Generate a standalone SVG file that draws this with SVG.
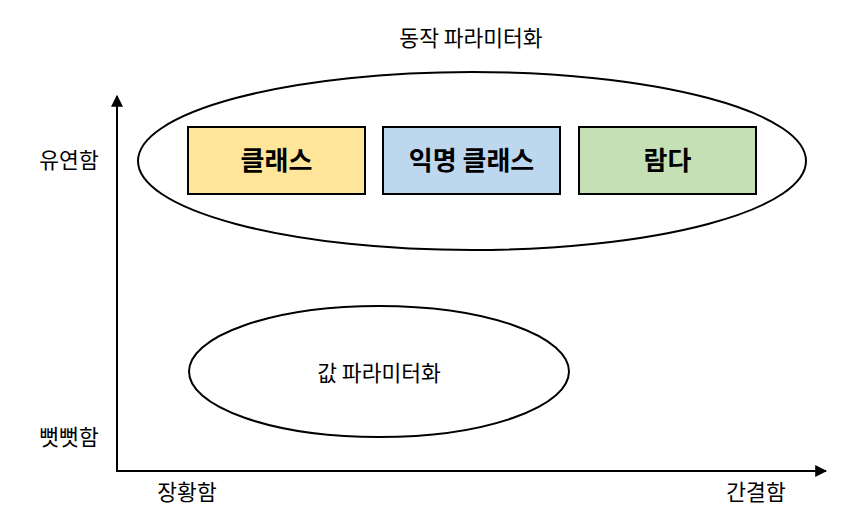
<svg xmlns="http://www.w3.org/2000/svg" width="846" height="531" viewBox="0 0 846 531">
<defs>
<marker id="ah" viewBox="0 0 10 10" refX="9" refY="5" markerWidth="12" markerHeight="12" markerUnits="userSpaceOnUse" orient="auto">
<path d="M0,0 L10,5 L0,10 Z" fill="#000"/>
</marker>
</defs>
<style>
text{font-family:"Noto Sans CJK KR","Noto Sans",sans-serif;fill:#000}
.lbl{font-size:21.5px}
.box{stroke:#000;stroke-width:2}
.bt{font-size:26px;font-weight:bold}
.ell{fill:none;stroke:#000;stroke-width:2}
</style>
<rect width="846" height="531" fill="#fff"/>
<g id="connectors">
<line x1="117" y1="471" x2="117" y2="96" stroke="#000" stroke-width="2" marker-end="url(#ah)"/>
<line x1="116" y1="471" x2="826" y2="471" stroke="#000" stroke-width="2" marker-end="url(#ah)"/>
</g>
<g id="dynamic">
<ellipse class="ell" cx="472" cy="161" rx="334" ry="89"/>
<text class="lbl" x="471" y="46" text-anchor="middle">동작 파라미터화</text>
</g>
<g id="class">
<rect class="box" x="188" y="127" width="177" height="67" fill="#ffe599"/>
<text class="bt" x="276.5" y="170" text-anchor="middle">클래스</text>
</g>
<g id="anon">
<rect class="box" x="383" y="127" width="177" height="67" fill="#bdd7ee"/>
<text class="bt" x="471.5" y="170" text-anchor="middle">익명 클래스</text>
</g>
<g id="lambda">
<rect class="box" x="579" y="127" width="177" height="67" fill="#c5e0b4"/>
<text class="bt" x="667.5" y="170" text-anchor="middle">람다</text>
</g>
<g id="value">
<ellipse class="ell" cx="379" cy="371.5" rx="190" ry="65.5"/>
<text class="lbl" x="379" y="381" text-anchor="middle">값 파라미터화</text>
</g>
<g id="axis-labels">
<text class="lbl" x="69" y="168" text-anchor="middle">유연함</text>
<text class="lbl" x="69" y="445" text-anchor="middle">뻣뻣함</text>
<text class="lbl" x="187" y="500" text-anchor="middle">장황함</text>
<text class="lbl" x="756" y="500" text-anchor="middle">간결함</text>
</g>
</svg>
